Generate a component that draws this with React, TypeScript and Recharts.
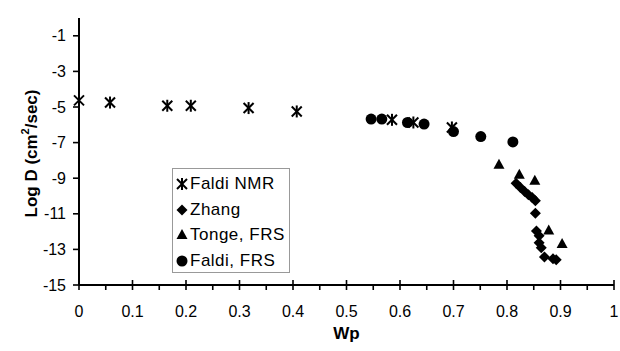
import React from 'react';
import { ScatterChart, Scatter, XAxis, YAxis, Legend } from 'recharts';

const FONT = '"Liberation Sans", Arial, Helvetica, sans-serif';

// ---- data ----
const faldiNmrX = [0, 0.058, 0.165, 0.209, 0.317, 0.407, 0.585, 0.625, 0.697];
const faldiNmrY = [-4.63, -4.75, -4.93, -4.93, -5.06, -5.25, -5.72, -5.87, -6.15];

const zhangX = [0.817, 0.825, 0.833, 0.84, 0.847, 0.853, 0.853, 0.855, 0.86, 0.86, 0.864, 0.87, 0.892, 0.886];
const zhangY = [-9.28, -9.52, -9.75, -9.93, -10.08, -10.27, -10.97, -11.96, -12.24, -12.63, -12.91, -13.42, -13.58, -13.53];

const tongeX = [0.785, 0.823, 0.852, 0.878, 0.903];
const tongeY = [-8.25, -8.81, -9.15, -11.94, -12.69];

const faldiFrsX = [0.546, 0.566, 0.614, 0.645, 0.7, 0.751, 0.811];
const faldiFrsY = [-5.68, -5.68, -5.87, -5.96, -6.38, -6.66, -6.96];

const xTicks = [0, 0.05, 0.1, 0.15, 0.2, 0.25, 0.3, 0.35, 0.4, 0.45, 0.5, 0.55, 0.6, 0.65, 0.7, 0.75, 0.8, 0.85, 0.9, 0.95, 1];
const xLabelTicks = [0, 0.1, 0.2, 0.3, 0.4, 0.5, 0.6, 0.7, 0.8, 0.9, 1];
const topTicks = [0.05, 0.15, 0.25, 0.35, 0.45, 0.55, 0.65, 0.75, 0.85, 0.95];
const yTicks = [-15, -13, -11, -9, -7, -5, -3, -1];

const seriesNames = ['Faldi NMR', 'Zhang', 'Tonge, FRS', 'Faldi, FRS'];

const toPoints = (xs: number[], ys: number[]) => xs.map((x, i) => ({ x, y: ys[i] }));
const faldiNmr = toPoints(faldiNmrX, faldiNmrY);
const zhang = toPoints(zhangX, zhangY);
const tonge = toPoints(tongeX, tongeY);
const faldiFrs = toPoints(faldiFrsX, faldiFrsY);

// ---- marker shapes ----
const Asterisk = ({ cx, cy }: any) => (
  <g stroke="#000" strokeWidth={2}>
    <line x1={cx - 5} y1={cy - 5} x2={cx + 5} y2={cy + 5} />
    <line x1={cx - 5} y1={cy + 5} x2={cx + 5} y2={cy - 5} />
    <line x1={cx} y1={cy - 6} x2={cx} y2={cy + 6} />
  </g>
);
const Diamond = ({ cx, cy }: any) => (
  <polygon points={`${cx},${cy - 5.5} ${cx + 5.5},${cy} ${cx},${cy + 5.5} ${cx - 5.5},${cy}`} fill="#000" />
);
const Triangle = ({ cx, cy }: any) => (
  <polygon points={`${cx},${cy - 6} ${cx + 5.5},${cy + 4} ${cx - 5.5},${cy + 4}`} fill="#000" />
);
const Circle = ({ cx, cy }: any) => <circle cx={cx} cy={cy} r={5.5} fill="#000" />;

const shapes = [Asterisk, Diamond, Triangle, Circle];

// ---- ticks ----
const isMajor = (v: number) => Math.abs(v * 10 - Math.round(v * 10)) < 1e-6;

const BottomTick = ({ x, y, payload }: any) => {
  const v = payload.value;
  const major = xLabelTicks.some((t) => Math.abs(t - v) < 1e-6) && isMajor(v);
  return (
    <g>
      <line x1={x} x2={x} y1={major ? y - 5 : y} y2={y + 5} stroke="#000" strokeWidth={1.6} />
      {major && (
        <text x={x} y={y + 32} textAnchor="middle" fontSize={16} fontFamily={FONT} fill="#000">
          {String(Math.round(v * 10) / 10)}
        </text>
      )}
    </g>
  );
};

const RightTick = ({ x, y }: any) => (
  <line x1={x - 6} x2={x + 6} y1={y} y2={y} stroke="#000" strokeWidth={1.6} />
);

const YLabel = ({ viewBox }: any) => {
  const cx = viewBox.x + 12;
  const cy = viewBox.y + viewBox.height / 2 + 2;
  return (
    <text
      x={cx}
      y={cy}
      transform={`rotate(-90, ${cx}, ${cy})`}
      textAnchor="middle"
      dominantBaseline="central"
      fontSize={17}
      fontWeight="bold"
      fontFamily={FONT}
      fill="#000"
    >
      Log D (cm
      <tspan fontSize={11} dy={-6}>2</tspan>
      <tspan dy={6}>/sec)</tspan>
    </text>
  );
};

const LegendBox = () => (
  <div
    style={{
      width: 118,
      height: 105,
      boxSizing: 'border-box',
      border: '1px solid #999',
      background: '#fff',
      position: 'relative',
      fontFamily: FONT,
    }}
  >
    {seriesNames.map((name, i) => {
      const Shape = shapes[i];
      return (
        <div
          key={name}
          style={{ position: 'absolute', left: 2, top: 4 + i * 25.5, height: 22, display: 'flex', alignItems: 'center' }}
        >
          <svg width={14} height={14} style={{ display: 'block' }}>
            <Shape cx={7} cy={7} />
          </svg>
          <span style={{ fontSize: 17, letterSpacing: 0.5, marginLeft: 1, color: '#000', whiteSpace: 'nowrap' }}>{name}</span>
        </div>
      );
    })}
  </div>
);

export default function App() {
  return (
    <div style={{ position: 'absolute', left: 0, top: 0, width: 620, height: 351, background: '#fff' }}>
      <ScatterChart width={620} height={351} margin={{ top: 18, right: 6, bottom: 6, left: 19 }}>
        <XAxis
          type="number"
          dataKey="x"
          domain={[0, 1]}
          ticks={xTicks}
          interval={0}
          height={60}
          tickSize={0}
          tickMargin={0}
          tick={<BottomTick />}
          axisLine={{ stroke: '#000', strokeWidth: 2 }}
          tickLine={false}
          label={{ value: 'Wp', position: 'insideBottom', offset: 6, style: { fontSize: 17, fontWeight: 'bold', fontFamily: FONT, fill: '#000' } }}
        />
        <XAxis
          xAxisId="top"
          orientation="top"
          type="number"
          domain={[0, 1]}
          ticks={topTicks}
          interval={0}
          height={0}
          tickSize={5}
          tick={false}
          axisLine={{ stroke: '#000', strokeWidth: 2 }}
          tickLine={{ stroke: '#000', strokeWidth: 1.6 }}
        />
        <YAxis
          type="number"
          dataKey="y"
          domain={[-15, 0]}
          ticks={yTicks}
          interval={0}
          width={60}
          tickSize={6}
          tickMargin={7}
          tick={{ fontSize: 16, fontFamily: FONT, fill: '#000' }}
          axisLine={{ stroke: '#000', strokeWidth: 2 }}
          tickLine={{ stroke: '#000', strokeWidth: 1.6 }}
          label={<YLabel />}
        />
        <YAxis
          yAxisId="right"
          orientation="right"
          type="number"
          domain={[-15, 0]}
          ticks={yTicks}
          interval={0}
          width={0}
          tickSize={0}
          tickMargin={0}
          tick={<RightTick />}
          tickLine={false}
          axisLine={{ stroke: '#000', strokeWidth: 2 }}
        />
        <Legend
          layout="vertical"
          align="center"
          verticalAlign="middle"
          content={<LegendBox />}
          wrapperStyle={{ left: 172, top: 168, width: 118, height: 105 }}
        />
        <Scatter name={seriesNames[0]} data={faldiNmr} shape={<Asterisk />} isAnimationActive={false} />
        <Scatter name={seriesNames[1]} data={zhang} shape={<Diamond />} isAnimationActive={false} />
        <Scatter name={seriesNames[2]} data={tonge} shape={<Triangle />} isAnimationActive={false} />
        <Scatter name={seriesNames[3]} data={faldiFrs} shape={<Circle />} isAnimationActive={false} />
      </ScatterChart>
    </div>
  );
}
